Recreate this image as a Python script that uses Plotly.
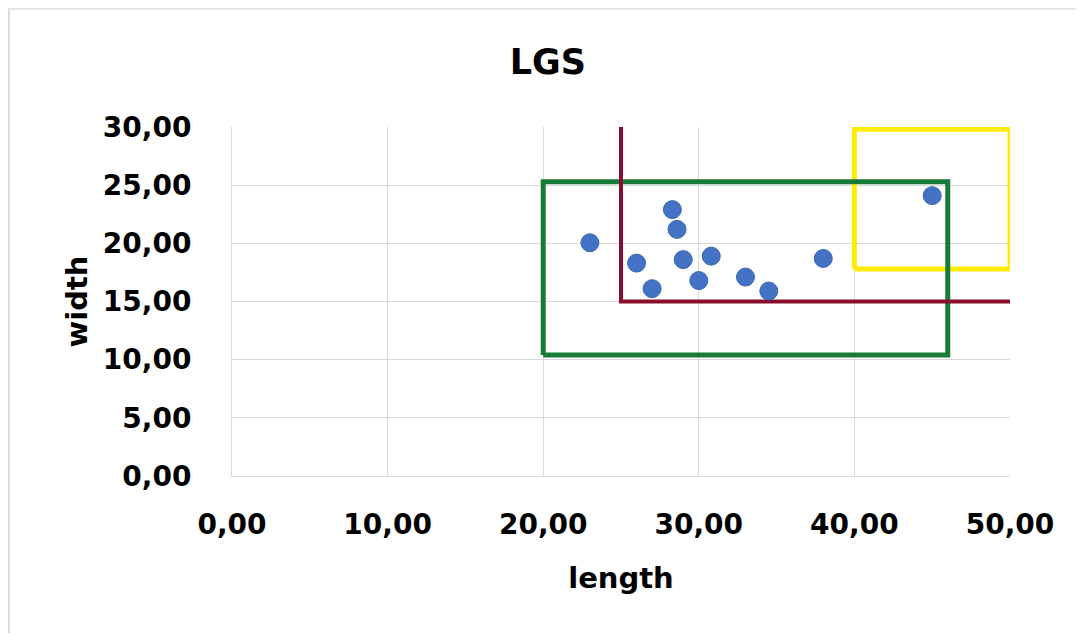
import plotly.graph_objects as go

# data
lengths = [23.0, 26.0, 27.0, 28.3, 28.6, 29.0, 30.0, 30.8, 33.0, 34.5, 38.0, 45.0]
widths = [20.05, 18.3, 16.1, 22.9, 21.2, 18.6, 16.8, 18.9, 17.1, 15.9, 18.7, 24.1]

green_x = [20, 46, 46, 20, 20]
green_y = [10.4, 10.4, 25.3, 25.3, 10.4]
maroon_x = [25, 25, 50]
maroon_y = [30, 15, 15]
yellow_x = [40, 50, 50, 40, 40]
yellow_y = [17.8, 17.8, 29.8, 29.8, 17.8]

x_ticks = [0, 10, 20, 30, 40, 50]
x_ticklabels = ["0,00", "10,00", "20,00", "30,00", "40,00", "50,00"]
y_ticks = [0, 5, 10, 15, 20, 25, 30]
y_ticklabels = ["0,00", "5,00", "10,00", "15,00", "20,00", "25,00", "30,00"]

fig = go.Figure()
fig.add_trace(go.Scatter(x=yellow_x, y=yellow_y, mode="lines",
                         line=dict(color="#FFEB0A", width=5), showlegend=False, hoverinfo="skip"))
fig.add_trace(go.Scatter(x=green_x, y=green_y, mode="lines",
                         line=dict(color="#177A38", width=5), showlegend=False, hoverinfo="skip"))
fig.add_trace(go.Scatter(x=maroon_x, y=maroon_y, mode="lines",
                         line=dict(color="#8A0C2C", width=4), showlegend=False, hoverinfo="skip"))
fig.add_trace(go.Scatter(x=lengths, y=widths, mode="markers",
                         marker=dict(color="#4472C4", size=18, line=dict(color="#3A65B5", width=1)),
                         showlegend=False))

font_family = "DejaVu Sans, Arial, sans-serif"
fig.update_layout(
    width=1084, height=635,
    margin=dict(l=224, r=82, t=119, b=167),
    paper_bgcolor="white", plot_bgcolor="white",
    title=dict(text="<b>LGS</b>", x=0.498, xanchor="center", y=0.915, yanchor="middle",
               font=dict(family=font_family, size=35, color="black")),
    font=dict(family=font_family, color="black"),
)
fig.update_xaxes(range=[0, 50], tickvals=x_ticks, ticktext=["<b>%s</b>" % t for t in x_ticklabels],
                 tickfont=dict(size=28), showgrid=True, gridcolor="#D9D9D9", gridwidth=1,
                 zeroline=False, showline=True, linecolor="#D9D9D9", ticks="", ticklen=0,
                 ticklabelstandoff=23,
                 title=dict(text="<b>length</b>", font=dict(size=29), standoff=28))
fig.update_yaxes(range=[0, 30], tickvals=y_ticks, ticktext=["<b>%s</b>" % t for t in y_ticklabels],
                 tickfont=dict(size=28), showgrid=True, gridcolor="#D9D9D9", gridwidth=1,
                 zeroline=False, showline=True, linecolor="#D9D9D9", ticks="",
                 ticklabelstandoff=34,
                 title=dict(text="<b>width</b>", font=dict(size=29), standoff=6))
fig.add_shape(type="line", xref="paper", yref="paper", x0=-0.287, x1=-0.287, y0=-0.45, y1=1.34,
              line=dict(color="#D9D9D9", width=2), layer="below")
fig.add_shape(type="line", xref="paper", yref="paper", x0=-0.287, x1=1.09, y0=1.339, y1=1.339,
              line=dict(color="#E3E3E3", width=2), layer="below")
fig.write_html("out.html")
